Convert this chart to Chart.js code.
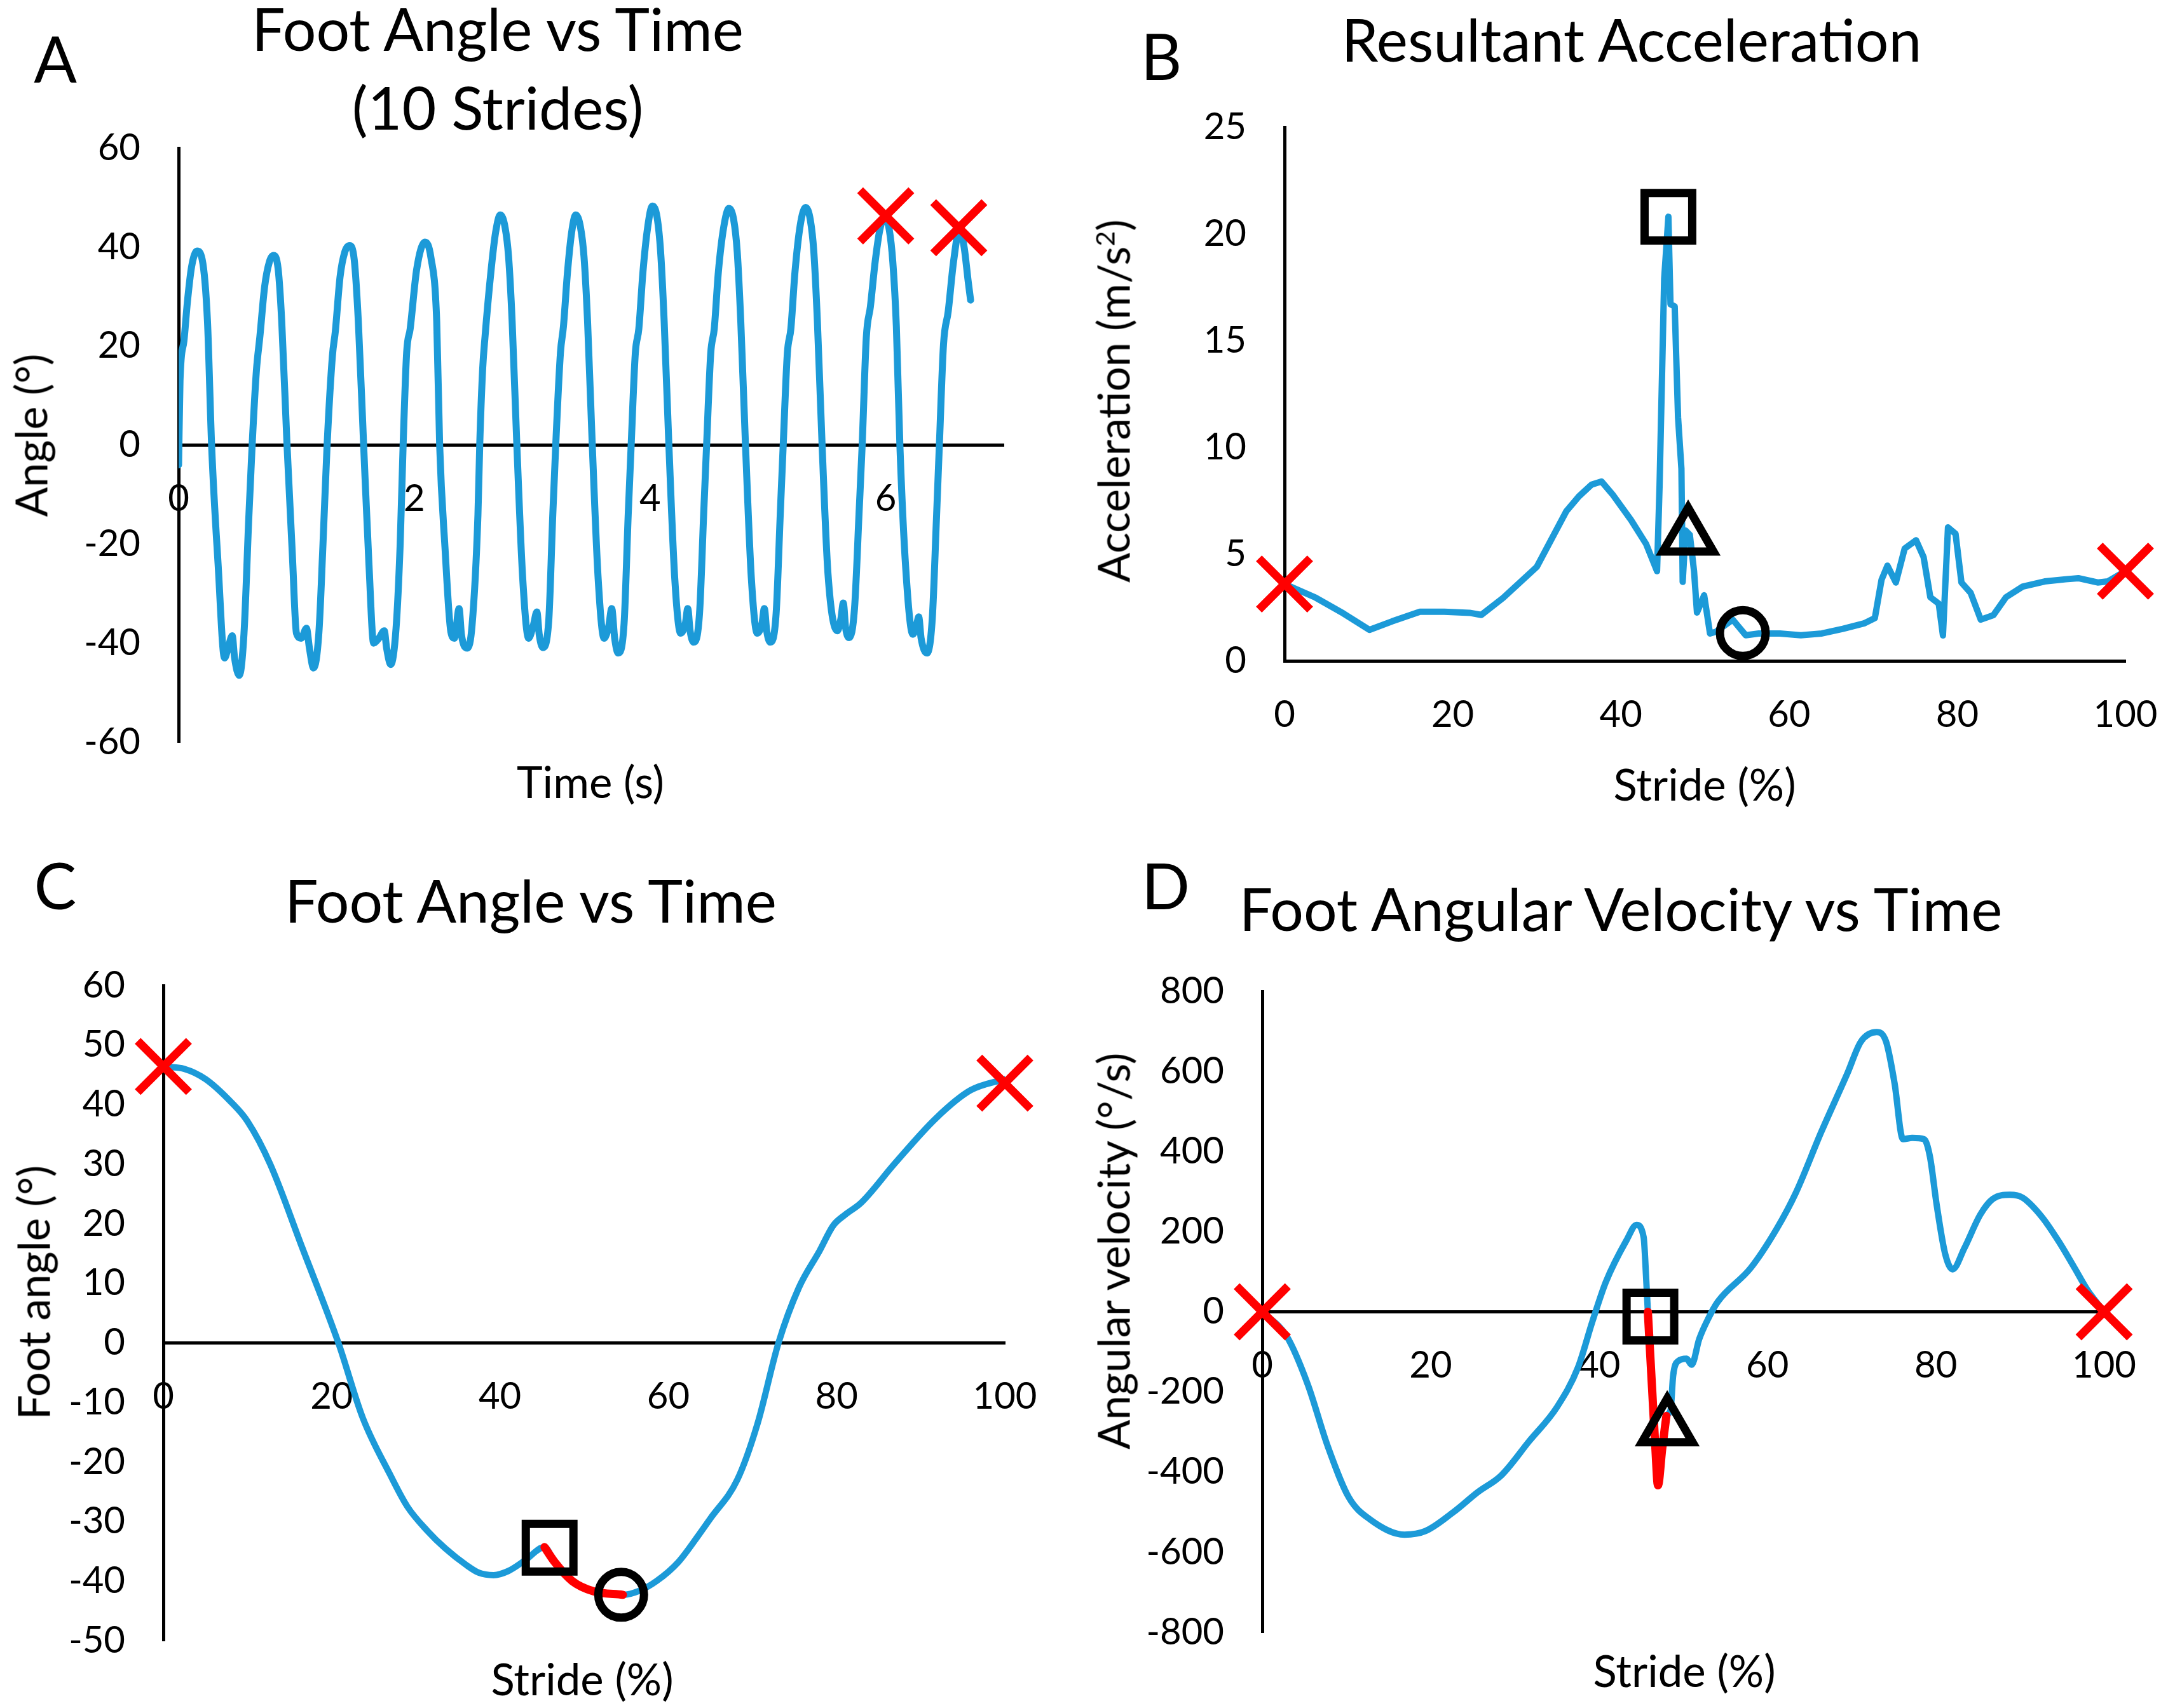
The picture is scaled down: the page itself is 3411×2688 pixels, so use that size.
<!DOCTYPE html>
<html lang="en">
<head>
<meta charset="UTF-8">
<title>Foot angle, acceleration and angular velocity</title>
<script src="https://cdn.jsdelivr.net/npm/chart.js@4"></script>
<style>
  body { margin: 0; background: #fff; }
  .page { position: relative; width: 3411px; height: 2688px; background: #fff; overflow: hidden;
          font-family: Lato, "Open Sans", sans-serif; color: #000; }
  .page canvas { position: absolute; }
  .txt { position: absolute; transform: translate(-50%, -50%); white-space: nowrap; line-height: 1; }
  .letter { font-size: 100px; }
  .title { font-size: 93px; }
  .axt { font-size: 69px; }
  .rot { transform: translate(-50%, -50%) rotate(-90deg); }
</style>
</head>
<body>
<div class="page">
  <canvas id="chartA" width="1700" height="1300" style="left:0px;top:0px"></canvas>
  <canvas id="chartB" width="1780" height="1300" style="left:1700px;top:0px"></canvas>
  <canvas id="chartC" width="1700" height="1388" style="left:0px;top:1300px"></canvas>
  <canvas id="chartD" width="1711" height="1388" style="left:1700px;top:1300px"></canvas>

  <div class="txt letter" style="left:87px;top:91px">A</div>
  <div class="txt title" style="left:783px;top:44px">Foot Angle vs Time</div>
  <div class="txt title" style="left:783px;top:168px">(10 Strides)</div>
  <div class="txt axt rot" style="left:48px;top:685px">Angle (°)</div>
  <div class="txt axt" style="left:929px;top:1229px">Time (s)</div>

  <div class="txt letter" style="left:1827px;top:87px">B</div>
  <div class="txt title" style="left:2567px;top:61px">Resultant Acceleration</div>
  <div class="txt axt rot" style="left:1751px;top:631px">Acceleration (m/s<sup style="font-size:0.6em">2</sup>)</div>
  <div class="txt axt" style="left:2682px;top:1233px">Stride (%)</div>

  <div class="txt letter" style="left:87px;top:1392px">C</div>
  <div class="txt title" style="left:835px;top:1416px">Foot Angle vs Time</div>
  <div class="txt axt rot" style="left:52px;top:2034px">Foot angle (°)</div>
  <div class="txt axt" style="left:916px;top:2641px">Stride (%)</div>

  <div class="txt letter" style="left:1834px;top:1392px">D</div>
  <div class="txt title" style="left:2550px;top:1429px">Foot Angular Velocity vs Time</div>
  <div class="txt axt rot" style="left:1751px;top:1969px">Angular velocity (°/s)</div>
  <div class="txt axt" style="left:2650px;top:2628px">Stride (%)</div>
</div>

<script>
// ---- A: foot angle over 10 strides (time in s, angle in deg)
const timeA = [0, 0.012, 0.045, 0.075, 0.11, 0.156, 0.20, 0.245, 0.28, 0.335, 0.39, 0.42, 0.455, 0.475, 0.515, 0.555, 0.595, 0.624,
  0.66, 0.69, 0.73, 0.77, 0.805, 0.845, 0.875, 0.92, 0.965, 1.0, 1.04, 1.085, 1.11, 1.145, 1.19, 1.225, 1.26,
  1.305, 1.33, 1.37, 1.41, 1.45, 1.49, 1.525, 1.57, 1.615, 1.655, 1.70, 1.745, 1.765, 1.80, 1.845, 1.88, 1.905,
  1.935, 1.965, 2.02, 2.09, 2.14, 2.19, 2.215, 2.26, 2.31, 2.34, 2.38, 2.40, 2.45, 2.49, 2.54, 2.555,
  2.58, 2.60, 2.65, 2.69, 2.73, 2.77, 2.80, 2.83, 2.87, 2.92, 2.97, 3.01, 3.04, 3.06, 3.09, 3.14, 3.175, 3.20,
  3.24, 3.265, 3.30, 3.335, 3.37, 3.41, 3.44, 3.47, 3.51, 3.56, 3.61, 3.65, 3.675, 3.70, 3.73, 3.78, 3.815, 3.84,
  3.875, 3.905, 3.94, 3.98, 4.02, 4.06, 4.09, 4.12, 4.16, 4.21, 4.26, 4.30, 4.32, 4.34, 4.37, 4.42, 4.455, 4.48,
  4.515, 4.545, 4.58, 4.625, 4.67, 4.71, 4.74, 4.77, 4.81, 4.86, 4.91, 4.95, 4.97, 4.99, 5.02, 5.07, 5.105, 5.13,
  5.165, 5.195, 5.23, 5.275, 5.32, 5.36, 5.39, 5.42, 5.46, 5.51, 5.59, 5.62, 5.64, 5.66, 5.69, 5.735, 5.775, 5.80,
  5.835, 5.87, 5.91, 5.95, 5.99, 6.03, 6.06, 6.09, 6.12, 6.17, 6.23, 6.26, 6.28, 6.30, 6.35, 6.395, 6.43, 6.455,
  6.49, 6.53, 6.575, 6.625, 6.665, 6.70, 6.72];
const angleA = [-4, 13, 21, 29, 36, 39.2, 37.5, 25, 0, -24, -43, -41, -38.5, -43, -46.5, -38, -15, 0,
  15, 22, 32, 37, 38.3, 35.5, 25, 0, -22, -38, -39, -37, -41, -45, -38, -20, 0,
  18, 23, 34, 39, 40.3, 37.5, 25, 0, -24, -40, -39, -37.5, -41, -44.3, -37, -20, 0,
  18.7, 23.5, 35.5, 41, 38, 25, 0, -20.6, -37.7, -39, -33, -38.3, -41, -36.4, -14, 0,
  15.4, 21.9, 35, 43, 46.5, 44, 38, 25, 0, -27, -39, -36.4, -33.7, -38.3, -40.9, -35.7, -14, 0,
  18.7, 23.9, 35, 43, 46.5, 44, 38, 25, 0, -27, -39, -36.5, -33, -39, -42, -36, -14, 0,
  18.5, 23.5, 35, 44, 48.3, 46, 39, 25, 0, -27, -38, -36, -33, -37.5, -39.8, -34, -14, 0,
  18.5, 23.5, 35, 44, 47.8, 45.5, 39, 25, 0, -27, -38, -36, -33, -37.5, -39.8, -34, -14, 0,
  18.5, 23.5, 35, 44.5, 48, 45.5, 39, 25, 0, -26, -37.5, -35, -31.9, -37, -38.9, -33, -13, 0,
  21.7, 28, 37, 43.5, 46, 43.5, 37, 24, 0, -25, -38.2, -36.5, -34.7, -39, -42, -35, -15, 0,
  20.3, 27, 37, 43.5, 40, 33, 29.3];
const crossA_x = [6.0, 6.62];
const crossA_y = [46.3, 43.9];

// ---- B: resultant acceleration over one stride (%), m/s^2
const strideB = [0, 3.7, 7, 10.1, 12.8, 16.1, 19, 22, 23.4, 26, 30, 33.5, 35, 36.5, 37.7, 39, 41.2, 43, 44.3,
  44.6, 45.15, 45.65, 45.9, 46.4, 46.8, 47.2, 47.35, 47.7, 48.2, 48.7, 49.05, 49.9, 50.6, 51.3, 53.3, 54.85,
  56.4, 58.9, 61.4, 63.9, 66.4, 68.9, 70.2, 71.0, 71.7, 72.7, 73.75, 75.1, 76.0, 76.8, 77.8, 78.3, 78.9, 79.8,
  80.5, 81.6, 82.8, 84.3, 85.8, 87.8, 90.4, 92.9, 94.4, 96.7, 97.9, 100];
const accelB = [3.6, 2.96, 2.22, 1.45, 1.85, 2.3, 2.3, 2.25, 2.15, 2.95, 4.4, 7.0, 7.7, 8.25, 8.4, 7.8, 6.6, 5.47, 4.2,
  8.2, 17.9, 20.8, 16.7, 16.6, 11.4, 9.0, 3.7, 6.1, 5.9, 4.2, 2.26, 3.07, 1.28, 1.36, 1.93, 1.2,
  1.28, 1.28, 1.2, 1.28, 1.5, 1.75, 2.0, 3.8, 4.46, 3.67, 5.26, 5.65, 4.86, 2.98, 2.68, 1.19, 6.25, 5.95,
  3.67, 3.18, 1.93, 2.14, 2.98, 3.48, 3.72, 3.82, 3.87, 3.67, 3.72, 4.2];
const crossB_x = [0, 100];
const crossB_y = [3.6, 4.2];
const squareB = [45.65, 20.8];
const triangleB = [48.0, 5.8];
const circleB = [54.5, 1.3];

// ---- C: foot angle over one stride (%), deg
const strideC = [0, 2.5, 5, 8, 10, 12.7, 16.5, 20.8, 23.7, 26.9, 29, 31.4, 33.5, 36, 37.5, 39.25, 41, 43, 45.3,
  46.5, 48.6, 51.1, 54.6, 56.6, 58.6, 61.2, 63.7, 65, 68.2, 70.6, 73.1, 75.5, 78, 79.6, 81, 82.9, 86.9, 91.8,
  95.9, 100];
const angleC = [46.4, 46, 44.3, 40.5, 37.2, 30, 16, 0, -12.6, -22, -27.5, -31.6, -34.5, -37.3, -38.6, -39, -38.3, -36.5, -34.3,
  -36.8, -40, -41.7, -42.3, -41.6, -40, -36.8, -32.1, -29.5, -23, -13.6, 0, 9.2, 15.5, 19.7, 21.5, 23.5, 30.1, 37.7,
  42.4, 44.3];
const redC_x = [45.3, 46.5, 48.6, 51.1, 54.6];
const redC_y = [-34.3, -36.8, -40, -41.7, -42.3];
const crossC_x = [0, 100];
const crossC_y = [46.4, 43.6];
const squareC = [45.9, -34.4];
const circleC = [54.4, -42.3];

// ---- D: foot angular velocity over one stride (%), deg/s
const strideD = [0, 2.9, 5.4, 7.8, 10.3, 12.8, 16.9, 19.4, 22.7, 25.6, 28.4, 31.7, 35, 37.5, 39.2, 40.8, 43.3, 44.45,
  45.3, 45.6, 45.8, 46.3, 46.7, 47, 47.5, 48, 48.5, 48.8, 49.4, 50.4, 51, 51.9, 52.9, 54.1, 58, 61.1, 63.4, 66.4,
  69.5, 71.1, 72.98, 74.1, 75.1, 76.1, 77.2, 78.6, 79.3, 80.1, 81.1, 82, 83.4, 85.3, 86.8, 88.8, 90.3, 92.6, 94.6,
  96.5, 98, 100];
const angVelD = [0, -61, -181, -337, -464, -518, -556, -547, -500, -450, -408, -323, -238, -139, -25, 74, 180, 217,
  186, 83, 0, -190, -342, -433, -342, -260, -245, -160, -123, -117, -132, -68, -20, 25, 109, 207, 298, 449,
  595, 674, 698, 674, 571, 431, 434, 431, 388, 268, 146, 106, 159, 243, 282, 292, 285, 237, 176,
  109, 55, 0];
const redD_x = [45.8, 46.3, 46.7, 47, 47.5, 48];
const redD_y = [0, -190, -342, -433, -342, -260];
const crossD_x = [0, 100];
const crossD_y = [0, 0];
const squareD = [46.1, -12];
const triangleD = [48.1, -289];

const BLUE = '#1c9ad8';
const RED = '#ff0000';

Chart.defaults.font.family = 'Lato';
Chart.defaults.color = '#000';

function pts(xs, ys) {
  return xs.map((x, i) => ({ x: x, y: ys[i] }));
}

function curve(data, color, width, smooth, order) {
  return {
    data: data, borderColor: color, borderWidth: width, pointRadius: 0, fill: false, order: order,
    tension: 0, cubicInterpolationMode: smooth ? 'monotone' : 'default', borderJoinStyle: 'round', borderCapStyle: 'round'
  };
}

function marker(data, style, color, radius, width) {
  return {
    data: data, showLine: false, pointStyle: style, pointRadius: radius, pointHoverRadius: radius,
    pointBorderWidth: width, pointBorderColor: color, pointBackgroundColor: 'rgba(0,0,0,0)',
    borderColor: color, backgroundColor: 'rgba(0,0,0,0)', clip: false, order: 0
  };
}

function makePanel(id, ax, datasets) {
  new Chart(document.getElementById(id), {
    type: 'line',
    data: { datasets: datasets },
    options: {
      responsive: false,
      animation: false,
      events: [],
      layout: { padding: ax.pad },
      plugins: { legend: { display: false }, tooltip: { enabled: false } },
      scales: {
        x: {
          type: 'linear', min: ax.xMin, max: ax.xMax, position: { y: 0 },
          grid: { display: false, drawTicks: false },
          border: { color: '#000', width: 5 },
          ticks: { stepSize: ax.xStep, includeBounds: false, padding: 50, font: { size: 58 }, maxRotation: 0, autoSkip: false }
        },
        y: {
          type: 'linear', min: ax.yMin, max: ax.yMax, position: 'left',
          afterFit: function (s) { s.width = 200; },
          grid: { display: false, drawTicks: false },
          border: { color: '#000', width: 5 },
          ticks: { stepSize: ax.yStep, padding: 60, font: { size: 58 }, autoSkip: false }
        }
      }
    }
  });
}

makePanel('chartA',
  { xMin: 0, xMax: 7, xStep: 2, yMin: -60, yMax: 60, yStep: 20, pad: { left: 81, top: 233, right: 121, bottom: 132 } },
  [
    marker(pts(crossA_x, crossA_y), 'crossRot', RED, 57, 13),
    curve(pts(timeA, angleA), BLUE, 11, true, 3)
  ]);

makePanel('chartB',
  { xMin: 0, xMax: 100, xStep: 20, yMin: 0, yMax: 25, yStep: 5, pad: { left: 121, top: 200, right: 136, bottom: 260 } },
  [
    marker(pts(crossB_x, crossB_y), 'crossRot', RED, 57, 13),
    marker([{ x: squareB[0], y: squareB[1] }], 'rect', '#000', 53, 13),
    marker([{ x: triangleB[0], y: triangleB[1] }], 'triangle', '#000', 46, 13),
    marker([{ x: circleB[0], y: circleB[1] }], 'circle', '#000', 36, 13),
    curve(pts(strideB, accelB), BLUE, 10, false, 3)
  ]);

makePanel('chartC',
  { xMin: 0, xMax: 100, xStep: 20, yMin: -50, yMax: 60, yStep: 10, pad: { left: 57, top: 251, right: 119, bottom: 106 } },
  [
    marker(pts(crossC_x, crossC_y), 'crossRot', RED, 57, 13),
    marker([{ x: squareC[0], y: squareC[1] }], 'rect', '#000', 53, 13),
    marker([{ x: circleC[0], y: circleC[1] }], 'circle', '#000', 36, 13),
    curve(pts(redC_x, redC_y), RED, 13, true, 2),
    curve(pts(strideC, angleC), BLUE, 10, true, 3)
  ]);

makePanel('chartD',
  { xMin: 0, xMax: 100, xStep: 20, yMin: -800, yMax: 800, yStep: 200, pad: { left: 86, top: 260, right: 100, bottom: 119 } },
  [
    marker(pts(crossD_x, crossD_y), 'crossRot', RED, 57, 13),
    marker([{ x: squareD[0], y: squareD[1] }], 'rect', '#000', 53, 13),
    marker([{ x: triangleD[0], y: triangleD[1] }], 'triangle', '#000', 46, 13),
    curve(pts(redD_x, redD_y), RED, 13, true, 2),
    curve(pts(strideD, angVelD), BLUE, 10, true, 3)
  ]);
</script>
</body>
</html>
